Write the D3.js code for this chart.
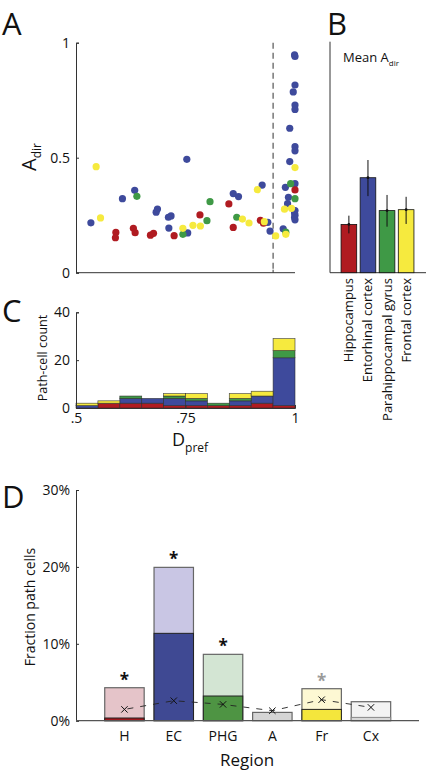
<!DOCTYPE html>
<html><head><meta charset="utf-8">
<script src="https://cdnjs.cloudflare.com/ajax/libs/d3/7.8.5/d3.min.js"></script>
<style>
body{margin:0;background:#fff;}
svg text{font-family:"Open Sans",sans-serif;}
</style></head>
<body><svg id="c" width="426" height="771" fill="#111"></svg>
<script>
// ---------- Panel A: scatter (D_pref vs A_dir) ----------
const dprefH = [0.591,0.590,0.631,0.635,0.670,0.677,0.724,0.783,0.849,0.859,0.921,0.928,1.0];
const adirH  = [0.175,0.152,0.193,0.174,0.163,0.171,0.161,0.251,0.299,0.197,0.228,0.215,0.360];
const dprefEC = [0.534,0.606,0.634,0.686,0.683,0.711,0.717,0.712,0.753,0.755,0.859,0.871,0.925,0.938,0.943,
                 0.973,0.978,0.988,0.988,0.996,1.0,1.0,0.999,1.0,1.0,1.0,1.0,1.0,0.985,0.983,1.0,1.0,1.0,0.999,0.999];
const adirEC  = [0.217,0.322,0.358,0.277,0.263,0.241,0.247,0.194,0.493,0.173,0.344,0.331,0.381,0.219,0.181,
                 0.191,0.371,0.483,0.628,0.786,0.816,0.940,0.947,0.729,0.710,0.548,0.530,0.387,0.328,0.300,0.270,0.250,0.230,0.260,0.240];
const dprefPHG = [0.639,0.744,0.799,0.806,0.867,0.979,0.990,1.0];
const adirPHG  = [0.332,0.167,0.226,0.309,0.241,0.176,0.387,0.322];
const dprefFr = [0.546,0.556,0.744,0.767,0.784,0.880,0.895,0.914,0.930,0.956,0.979,0.976,0.992,1.0];
const adirFr  = [0.461,0.238,0.193,0.206,0.203,0.233,0.216,0.361,0.222,0.160,0.167,0.276,0.280,0.457];
const threshold = 0.95;

// ---------- Panel B: mean A_dir ----------
const regionsB = ["Hippocampus","Entorhinal cortex","Parahippocampal gyrus","Frontal cortex"];
const meanAdir = [0.21,0.413,0.27,0.274];
const errLo = [0.171,0.333,0.200,0.212];
const errHi = [0.248,0.490,0.338,0.330];

// ---------- Panel C: histogram counts per D_pref bin ----------
const binEdges = [0.5,0.55,0.6,0.65,0.7,0.75,0.8,0.85,0.9,0.95,1.0];
const countH   = [0,2,2,2,1,1,1,1,2,1];
const countEC  = [1,0,2,2,3,2,0,2,3,20];
const countPHG = [0,0,1,0,1,1,1,1,0,3];
const countFr  = [1,1,0,0,1,2,0,2,2,5];

// ---------- Panel D: fraction of path cells ----------
const regionsD = ["H","EC","PHG","A","Fr","Cx"];
const fracAll  = [4.29,19.94,8.63,1.08,4.16,2.47];
const fracDir  = [0.35,11.36,3.21,0,1.47,0.43];
const chance   = [1.47,2.60,2.12,1.30,2.73,1.73];
const signif   = ["#111","#111","#111",null,"#9a9a9a",null];

const colH="#b01b21", colEC="#3e4a9c", colPHG="#3f9946", colFr="#f6ea3e";
const svg = d3.select("#c");
const axisCol = "#333";

function panelLabel(t,x,y){ svg.append("text").attr("x",x).attr("y",y).attr("font-size",31).text(t); }
function styleAxis(g){
  g.select(".domain").attr("stroke",axisCol);
  g.selectAll("line").attr("stroke",axisCol);
  g.selectAll("text").attr("font-size",14).attr("font-family","Open Sans").attr("fill","#111");
}

// ===== Panel A =====
const xA = d3.scaleLinear().domain([0.5,1]).range([76,295]);
const yA = d3.scaleLinear().domain([0,1]).range([272.7,42.7]);
panelLabel("A",2,35);
const gA = svg.append("g");
gA.append("line").attr("x1",xA(threshold)).attr("x2",xA(threshold)).attr("y1",yA(1)).attr("y2",yA(0))
  .attr("stroke","#555").attr("stroke-width",1.2).attr("stroke-dasharray","6,4");
gA.append("g").attr("transform","translate(76,0)")
  .call(d3.axisLeft(yA).tickValues([0,0.5,1]).tickFormat(d=>d===0.5?"0.5":d).tickSize(-3).tickPadding(6))
  .call(styleAxis);
gA.append("line").attr("x1",76).attr("x2",295).attr("y1",yA(0)).attr("y2",yA(0)).attr("stroke",axisCol);
gA.append("line").attr("x1",xA(threshold)).attr("x2",xA(threshold)).attr("y1",yA(0)).attr("y2",yA(0)-3).attr("stroke",axisCol);
[[dprefEC,adirEC,colEC],[dprefH,adirH,colH],[dprefPHG,adirPHG,colPHG],[dprefFr,adirFr,colFr]].forEach(([xs,ys,c])=>{
  gA.append("g").selectAll("circle").data(xs.map((d,i)=>[d,ys[i]])).join("circle")
    .attr("cx",d=>xA(d[0])).attr("cy",d=>yA(d[1])).attr("r",3.6).attr("fill",c);
});
const aLab = svg.append("text").attr("transform","translate(36,157) rotate(-90)").attr("text-anchor","middle").attr("font-size",20);
aLab.append("tspan").text("A");
aLab.append("tspan").attr("font-size",12).attr("dy",5).text("dir");

// ===== Panel B =====
panelLabel("B",327,35);
const xB = d3.scaleBand().domain(regionsB).range([338,417]).paddingInner(0.18).paddingOuter(0.16);
const colsB = [colH,colEC,colPHG,colFr];
svg.append("line").attr("x1",330).attr("x2",330).attr("y1",yA(1)-1).attr("y2",yA(0)).attr("stroke",axisCol);
svg.append("line").attr("x1",330).attr("x2",426).attr("y1",yA(0)).attr("y2",yA(0)).attr("stroke",axisCol);
svg.append("g").selectAll("rect").data(regionsB).join("rect")
  .attr("x",d=>xB(d)).attr("width",xB.bandwidth())
  .attr("y",(d,i)=>yA(meanAdir[i])).attr("height",(d,i)=>yA(0)-yA(meanAdir[i]))
  .attr("fill",(d,i)=>colsB[i]).attr("stroke","#111").attr("stroke-width",0.8);
svg.append("g").selectAll("line").data(regionsB).join("line")
  .attr("x1",d=>xB(d)+xB.bandwidth()/2).attr("x2",d=>xB(d)+xB.bandwidth()/2)
  .attr("y1",(d,i)=>yA(errLo[i])).attr("y2",(d,i)=>yA(errHi[i])).attr("stroke","#111").attr("stroke-width",1);
svg.append("g").selectAll("circle").data(regionsB).join("circle")
  .attr("cx",d=>xB(d)+xB.bandwidth()/2).attr("cy",(d,i)=>yA(meanAdir[i])).attr("r",1.4).attr("fill","#111");
svg.append("g").selectAll("text").data(regionsB).join("text")
  .attr("transform",d=>`translate(${xB(d)+xB.bandwidth()/2+4.5},278) rotate(-90)`)
  .attr("text-anchor","end").attr("font-size",13).text(d=>d);
const mLab = svg.append("text").attr("x",343).attr("y",62).attr("font-size",13);
mLab.append("tspan").text("Mean A");
mLab.append("tspan").attr("font-size",8).attr("dy",4).text("dir");

// ===== Panel C =====
panelLabel("C",2,322);
const yC = d3.scaleLinear().domain([0,40]).range([408,312.3]);
const gC = svg.append("g");
const layers = [[countH,colH],[countEC,colEC],[countPHG,colPHG],[countFr,colFr]];
const cum = binEdges.slice(0,-1).map(()=>0);
layers.forEach(([cnt,c])=>{
  gC.append("g").selectAll("rect").data(cnt.map((v,i)=>({v,i,b:cum[i]}))).join("rect")
    .filter(d=>d.v>0)
    .attr("x",d=>xA(binEdges[d.i])).attr("width",d=>xA(binEdges[d.i+1])-xA(binEdges[d.i]))
    .attr("y",d=>yC(d.b+d.v)).attr("height",d=>yC(d.b)-yC(d.b+d.v))
    .attr("fill",c).attr("stroke","#2a2a2a").attr("stroke-width",0.7).attr("stroke-opacity",0.8);
  cnt.forEach((v,i)=>cum[i]+=v);
});
gC.append("g").attr("transform","translate(76,0)")
  .call(d3.axisLeft(yC).tickValues([0,20,40]).tickSize(-3).tickPadding(6)).call(styleAxis);
gC.append("g").attr("transform","translate(0,408)")
  .call(d3.axisBottom(xA).tickValues([0.5,0.75,1]).tickFormat(d=>d===1?"1":d3.format(".2~f")(d).replace(/^0/,"")).tickSize(-3).tickPadding(5))
  .call(styleAxis);
svg.append("text").attr("transform","translate(47,358) rotate(-90)").attr("text-anchor","middle").attr("font-size",12.5).text("Path-cell count");
const dLab = svg.append("text").attr("x",172).attr("y",446).attr("font-size",18);
dLab.append("tspan").text("D");
dLab.append("tspan").attr("font-size",12).attr("dy",6).text("pref");

// ===== Panel D =====
panelLabel("D",2,508);
const xD = d3.scaleBand().domain(regionsD).range([99.8,395.6]).paddingInner(0.2).paddingOuter(0.1);
const yD = d3.scaleLinear().domain([0,30]).range([720.7,490]);
const lightCols = ["#e5c4c9","#c9c6e4","#d3e5d3","#d5d5d5","#fdf8d3","#f3f3f3"];
const darkCols  = ["#a0171d","#3f4993","#4e9443","#c8c8c8","#f4e63c","#d8d8d8"];
const gD = svg.append("g");
gD.append("g").selectAll("rect").data(regionsD).join("rect")
  .attr("x",d=>xD(d)).attr("width",xD.bandwidth())
  .attr("y",(d,i)=>yD(fracAll[i])).attr("height",(d,i)=>yD(0)-yD(fracAll[i]))
  .attr("fill",(d,i)=>lightCols[i]).attr("stroke","#666").attr("stroke-width",1.2);
gD.append("g").selectAll("rect").data(regionsD.filter((d,i)=>fracDir[i]>0)).join("rect")
  .attr("x",d=>xD(d)).attr("width",xD.bandwidth())
  .attr("y",d=>yD(fracDir[regionsD.indexOf(d)])).attr("height",d=>yD(0)-yD(fracDir[regionsD.indexOf(d)]))
  .attr("fill",d=>darkCols[regionsD.indexOf(d)]).attr("stroke",d=>regionsD.indexOf(d)===5?"#888":"#222").attr("stroke-width",1);
const cx = d=>xD(d)+xD.bandwidth()/2;
gD.append("path").datum(regionsD).attr("fill","none").attr("stroke","#222").attr("stroke-width",0.9)
  .attr("stroke-dasharray","6,7").attr("stroke-dashoffset",-3)
  .attr("d",d3.line().x(d=>cx(d)).y((d,i)=>yD(chance[i])));
gD.append("g").selectAll("path").data(regionsD).join("path")
  .attr("d",(d,i)=>{const x=cx(d),y=yD(chance[i]),s=3.2;return `M${x-s},${y-s}L${x+s},${y+s}M${x-s},${y+s}L${x+s},${y-s}`;})
  .attr("stroke","#111").attr("stroke-width",1);
gD.append("g").selectAll("text").data(regionsD.filter((d,i)=>signif[i])).join("text")
  .attr("x",d=>cx(d)).attr("y",d=>yD(fracAll[regionsD.indexOf(d)])-2).attr("text-anchor","middle")
  .attr("font-size",17).attr("font-weight","bold").style("fill",d=>signif[regionsD.indexOf(d)]).text("*");
gD.append("g").attr("transform","translate(76,0)")
  .call(d3.axisLeft(yD).tickValues([0,10,20,30]).tickFormat(d=>d+"%").tickSize(-3).tickPadding(6)).call(styleAxis);
gD.append("line").attr("x1",76).attr("x2",419).attr("y1",yD(0)).attr("y2",yD(0)).attr("stroke","#555").attr("stroke-width",1.2);
gD.append("g").selectAll("text").data(regionsD).join("text")
  .attr("x",d=>cx(d)).attr("y",741).attr("text-anchor","middle").attr("font-size",14).text(d=>d);
svg.append("text").attr("x",247).attr("y",766).attr("text-anchor","middle").attr("font-size",17).text("Region");
svg.append("text").attr("transform","translate(35,607) rotate(-90)").attr("text-anchor","middle").attr("font-size",14).text("Fraction path cells");
</script></body></html>
